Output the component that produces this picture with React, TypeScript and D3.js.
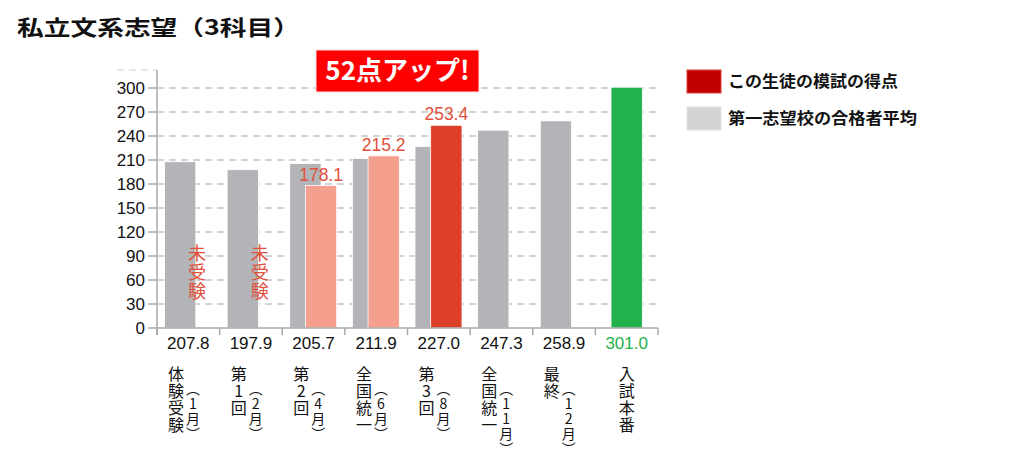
import React from "react"
import * as d3 from "d3"

// chart data
const categoryNames = ["体験受験", "第1回", "第2回", "全国統一", "第3回", "全国統一", "最終", "入試本番"]
const categoryMonths = ["1月", "2月", "4月", "6月", "8月", "11月", "12月", ""]
const averageScores = [207.8, 197.9, 205.7, 211.9, 227.0, 247.3, 258.9, 301.0]
const studentScores: (number | null)[] = [null, null, 178.1, 215.2, 253.4, null, null, null]
const notTakenIndex = [0, 1]
const yTicks = [0, 30, 60, 90, 120, 150, 180, 210, 240, 270, 300]
const legendItems = ["この生徒の模試の得点", "第一志望校の合格者平均"]

const W = 1024
const H = 462
const JP = "'Noto Sans CJK JP', 'Noto Sans', sans-serif"
const NUM = "'Liberation Sans', Arial, sans-serif"

const GRAY = "#b3b4b7"
const SALMON = "#f5a08f"
const RED = "#dc4029"
const GREEN = "#22b14c"
const LABEL_RED = "#e2503c"
const AXIS = "#a9a9a9"

const vertical: React.CSSProperties = { writingMode: "vertical-rl", textOrientation: "upright" } as React.CSSProperties

export default function App() {
    const x = d3.scaleBand<number>().domain(d3.range(categoryNames.length)).range([157, 658]).padding(0)
    const y = d3.scaleLinear().domain([0, 300]).range([328, 88])
    const bw = x.bandwidth()
    const axisTop = y(322.5)
    const lastStudent = d3.max(studentScores.map((v, i) => (v == null ? -1 : i))) as number

    return (
        <svg width={W} height={H} style={{ position: "absolute", left: 0, top: 0, background: "#fff" }}>
            {/* title */}
            <text x={17} y={35} fontFamily={JP} fontWeight={700} fontSize={21} fill="#111" textLength={283} lengthAdjust="spacingAndGlyphs">
                私立文系志望（3科目）
            </text>

            {/* grid */}
            {yTicks.slice(1).map((t) => (
                <line key={"g" + t} x1={157} x2={658} y1={y(t)} y2={y(t)} stroke={AXIS} strokeWidth={1.2} strokeDasharray="7 5" />
            ))}
            <line x1={117} x2={157} y1={axisTop} y2={axisTop} stroke="#cfcfcf" strokeWidth={1} strokeDasharray="7 5" />

            {/* y axis */}
            <line x1={157} x2={157} y1={axisTop} y2={335} stroke={AXIS} strokeWidth={1.5} />
            {yTicks.map((t) => (
                <g key={"t" + t}>
                    <line x1={148} x2={157} y1={y(t)} y2={y(t)} stroke={AXIS} strokeWidth={1.5} />
                    <text x={145} y={y(t)} dy="0.36em" textAnchor="end" fontFamily={NUM} fontSize={17} fill="#111">
                        {t}
                    </text>
                </g>
            ))}

            {/* bars */}
            {averageScores.map((v, i) => {
                const last = i === averageScores.length - 1
                const x0 = (x(i) as number) + bw * (last ? 0.25 : 0.12)
                return (
                    <rect key={"a" + i} x={x0} y={y(v)} width={bw * 0.5} height={y(0) - y(v)}
                        fill={last ? GREEN : GRAY} stroke="#fff" strokeWidth={0.8} />
                )
            })}
            {studentScores.map((v, i) =>
                v == null ? null : (
                    <g key={"s" + i}>
                        <rect x={(x(i) as number) + bw * 0.37} y={y(v)} width={bw * 0.5} height={y(0) - y(v)}
                            fill={i === lastStudent ? RED : SALMON} stroke="#fff" strokeWidth={0.8} />
                        <text x={(x(i) as number) + bw * 0.62} y={y(v) - 5} textAnchor="middle" fontFamily={NUM} fontSize={17.5} fill={LABEL_RED}>
                            {v.toFixed(1)}
                        </text>
                    </g>
                )
            )}

            {/* not taken */}
            {notTakenIndex.map((i) => (
                <text key={"n" + i} x={(x(i) as number) + 40} y={244.5} fontFamily={JP} fontSize={18} letterSpacing={0.7}
                    fill={LABEL_RED} style={vertical}>
                    未受験
                </text>
            ))}

            {/* x axis */}
            <line x1={157} x2={658} y1={y(0)} y2={y(0)} stroke={AXIS} strokeWidth={1.5} />
            {d3.range(categoryNames.length + 1).map((i) => (
                <line key={"xt" + i} x1={157 + i * bw} x2={157 + i * bw} y1={y(0)} y2={335} stroke={AXIS} strokeWidth={1.5} />
            ))}
            {averageScores.map((v, i) => (
                <text key={"v" + i} x={(x(i) as number) + bw / 2} y={348.5} textAnchor="middle" fontFamily={NUM} fontSize={17}
                    fill={i === averageScores.length - 1 ? GREEN : "#111"}>
                    {v.toFixed(1)}
                </text>
            ))}

            {/* category labels, vertical */}
            {categoryNames.map((name, i) => {
                const x0 = x(i) as number
                const month = categoryMonths[i]
                return (
                    <g key={"c" + i}>
                        <text x={month ? x0 + 19 : x0 + bw / 2} y={366} fontFamily={JP} fontSize={16} letterSpacing={1}
                            fill="#111" style={vertical}>
                            {name}
                        </text>
                        {month && (
                            <text x={x0 + 36} y={382} fontFamily={JP} fontSize={14} letterSpacing={1}
                                fill="#111" style={vertical}>
                                {"（" + month + "）"}
                            </text>
                        )}
                    </g>
                )
            })}

            {/* badge */}
            <rect x={316} y={50} width={163} height={42} fill="#ff0000" stroke="#ffe0e0" strokeWidth={1} />
            <text x={397.5} y={71} dy="0.36em" textAnchor="middle" fontFamily={JP} fontWeight={700} fontSize={26} fill="#fff">
                52点アップ!
            </text>

            {/* legend */}
            {legendItems.map((t, i) => (
                <g key={"l" + i}>
                    <rect x={687} y={70 + i * 37} width={34} height={23} fill={i === 0 ? "#c00000" : "#d4d4d4"}
                        stroke={i === 0 ? "#d94040" : "#e2e2e2"} strokeWidth={1} />
                    <text x={728} y={81.5 + i * 37} dy="0.36em" fontFamily={JP} fontWeight={700} fontSize={16} fill="#111"
                        textLength={i === 0 ? 170 : 189} lengthAdjust="spacingAndGlyphs">
                        {t}
                    </text>
                </g>
            ))}
        </svg>
    )
}
